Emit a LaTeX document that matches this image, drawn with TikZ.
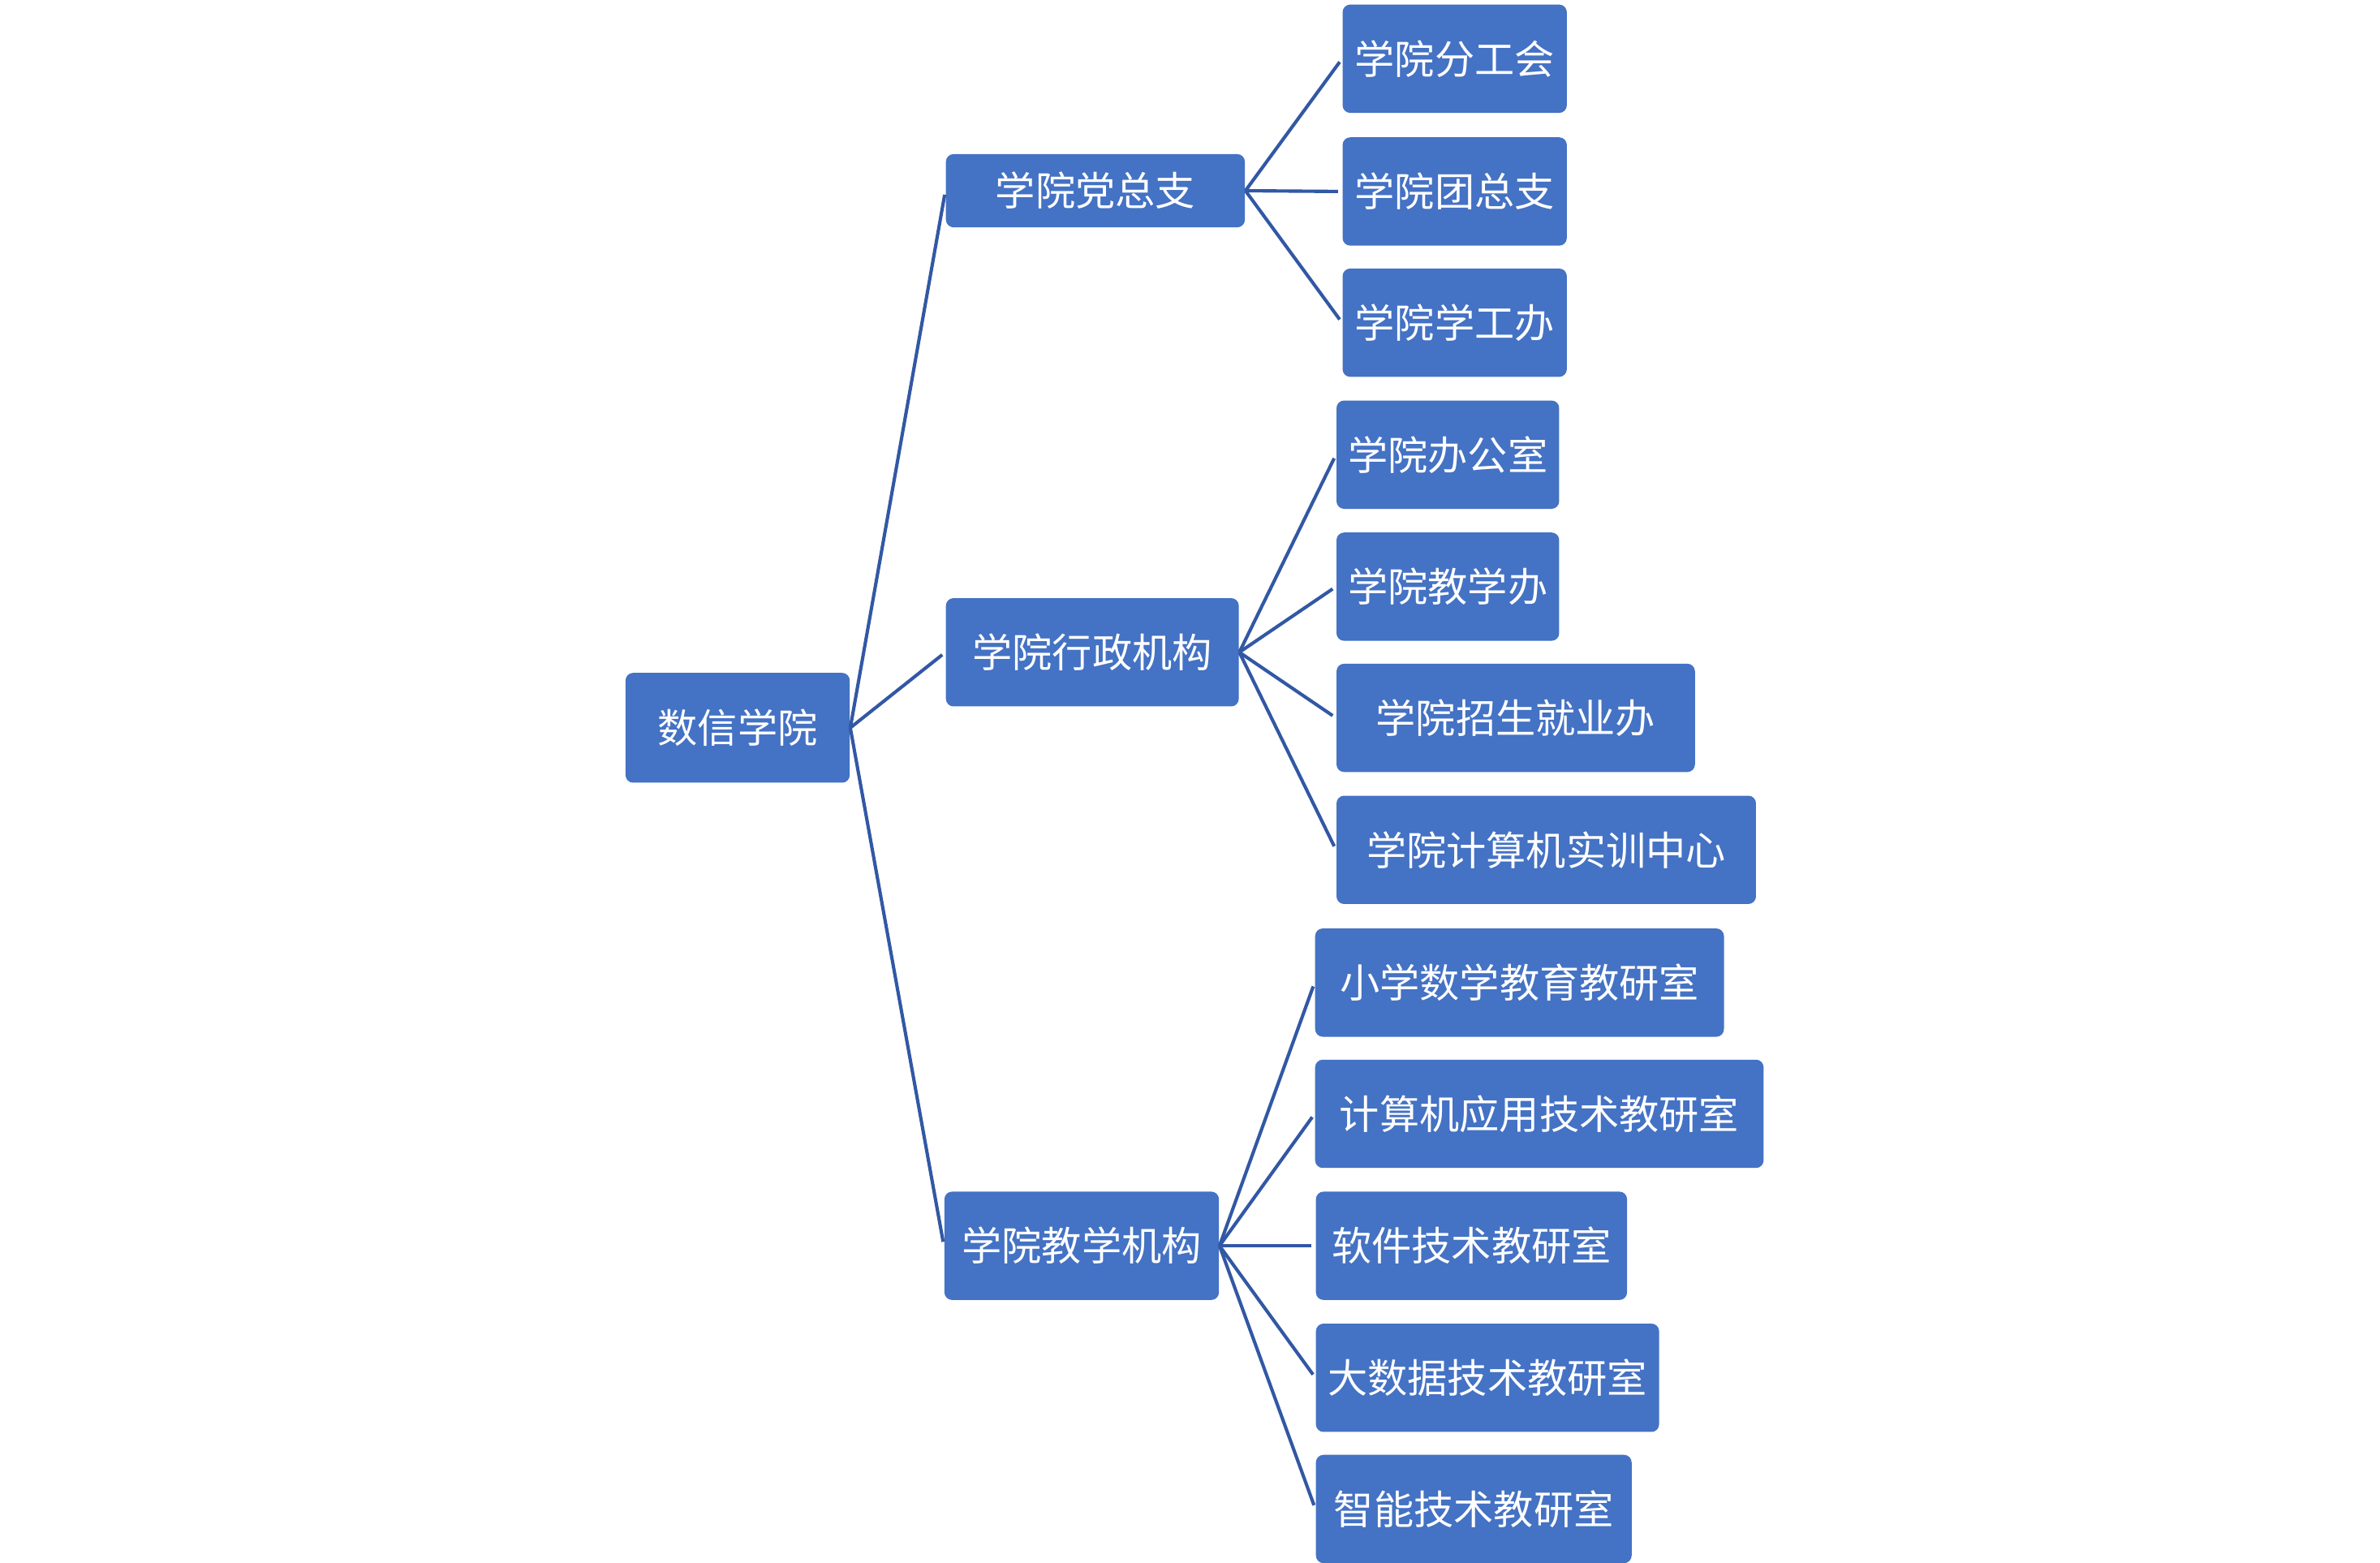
\documentclass[tikz,border=0pt]{standalone}
\usepackage{fontspec}
\newfontfamily\cjk{Noto Sans CJK SC}
\definecolor{boxblue}{RGB}{68,114,196}
\definecolor{lineblue}{RGB}{50,88,164}
\tikzset{
	box/.style={fill=boxblue,rounded corners=0.1cm,text=white,inner sep=0pt,
		minimum height=1.42cm,font=\cjk\fontsize{14.9pt}{18pt}\selectfont},
	link/.style={draw=lineblue,line width=1.25pt,shorten >=1.5pt}
}
\begin{document}
\begin{tikzpicture}[x=0.02cm,y=-0.02cm]
	\useasboundingbox (0,0) rectangle (1560,1024);
	\node[box,minimum width=2.94cm,minimum height=1.44cm] (root) at (483.5,477) {数信学院};
	% second level
	\node[box,minimum width=3.92cm,minimum height=0.96cm] (dang) at (718,125) {学院党总支};
	\node[box,minimum width=3.84cm] (xz) at (716,427.5) {学院行政机构};
	\node[box,minimum width=3.6cm] (jx) at (709,816.5) {学院教学机构};
	% third level
	\node[box,minimum width=2.94cm] (fgh) at (953.5,38.5) {学院分工会};
	\node[box,minimum width=2.94cm] (tzz) at (953.5,125.5) {学院团总支};
	\node[box,minimum width=2.94cm] (xgb) at (953.5,211.5) {学院学工办};
	\node[box,minimum width=2.92cm] (bgs) at (949,298) {学院办公室};
	\node[box,minimum width=2.92cm] (jxb) at (949,384.5) {学院教学办};
	\node[box,minimum width=4.7cm] (zs) at (993.5,470.5) {学院招生就业办};
	\node[box,minimum width=5.5cm] (sx) at (1013.5,557) {学院计算机实训中心};
	\node[box,minimum width=5.36cm] (xx) at (996,644) {小学数学教育教研室};
	\node[box,minimum width=5.88cm] (jsj) at (1009,730) {计算机应用技术教研室};
	\node[box,minimum width=4.08cm] (rj) at (964.5,816.5) {软件技术教研室};
	\node[box,minimum width=4.5cm] (dsj) at (975,903) {大数据技术教研室};
	\node[box,minimum width=4.14cm] (zn) at (966,989) {智能技术教研室};
	
	\foreach \c in {dang,xz,jx} \draw[link] (root.east) -- (\c.west);
	\foreach \c in {fgh,tzz,xgb} \draw[link] (dang.east) -- (\c.west);
	\foreach \c in {bgs,jxb,zs,sx} \draw[link] (xz.east) -- (\c.west);
	\foreach \c in {xx,jsj,rj,dsj,zn} \draw[link] (jx.east) -- (\c.west);
\end{tikzpicture}
\end{document}
